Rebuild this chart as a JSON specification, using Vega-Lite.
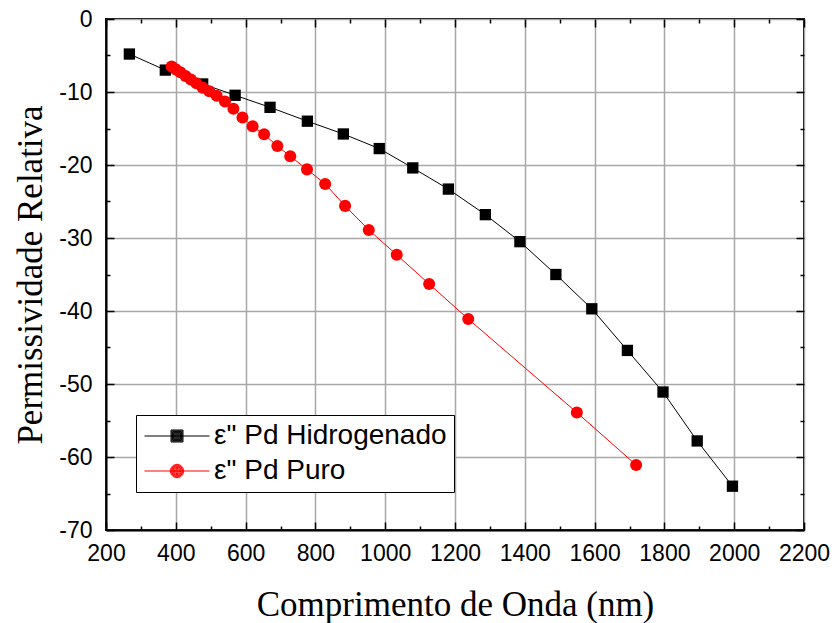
{
  "$schema": "https://vega.github.io/schema/vega-lite/v6.json",
  "width": 698,
  "height": 511,
  "autosize": {"type": "none"},
  "padding": {"left": 106, "top": 19, "right": 30, "bottom": 93},
  "background": "white",
  "config": {
    "view": {"stroke": "black", "strokeWidth": 2},
    "legend": {
      "orient": "none",
      "legendX": 30,
      "legendY": 396,
      "title": null,
      "strokeColor": "black",
      "fillColor": "white",
      "padding": 7,
      "labelFont": "Liberation Sans",
      "labelFontSize": 28,
      "labelColor": "black",
      "labelLimit": 500,
      "symbolSize": 400,
      "symbolOffset": 20,
      "symbolStrokeWidth": 1,
      "labelOffset": 23,
      "rowPadding": 7
    }
  },
  "data": {
    "values": [
      {"serie": "ε\" Pd Hidrogenado", "wl": 267, "eps": -4.8},
      {"serie": "ε\" Pd Hidrogenado", "wl": 370, "eps": -7.0},
      {"serie": "ε\" Pd Hidrogenado", "wl": 477, "eps": -8.9},
      {"serie": "ε\" Pd Hidrogenado", "wl": 570, "eps": -10.45},
      {"serie": "ε\" Pd Hidrogenado", "wl": 670, "eps": -12.1},
      {"serie": "ε\" Pd Hidrogenado", "wl": 777, "eps": -14.0},
      {"serie": "ε\" Pd Hidrogenado", "wl": 880, "eps": -15.75},
      {"serie": "ε\" Pd Hidrogenado", "wl": 983, "eps": -17.75},
      {"serie": "ε\" Pd Hidrogenado", "wl": 1079, "eps": -20.4},
      {"serie": "ε\" Pd Hidrogenado", "wl": 1181, "eps": -23.3},
      {"serie": "ε\" Pd Hidrogenado", "wl": 1287, "eps": -26.8},
      {"serie": "ε\" Pd Hidrogenado", "wl": 1386, "eps": -30.5},
      {"serie": "ε\" Pd Hidrogenado", "wl": 1489, "eps": -35.0},
      {"serie": "ε\" Pd Hidrogenado", "wl": 1592, "eps": -39.7},
      {"serie": "ε\" Pd Hidrogenado", "wl": 1694, "eps": -45.4},
      {"serie": "ε\" Pd Hidrogenado", "wl": 1796, "eps": -51.1},
      {"serie": "ε\" Pd Hidrogenado", "wl": 1894, "eps": -57.8},
      {"serie": "ε\" Pd Hidrogenado", "wl": 1995, "eps": -64.0},
      {"serie": "ε\" Pd Puro", "wl": 388, "eps": -6.5},
      {"serie": "ε\" Pd Puro", "wl": 400, "eps": -6.9},
      {"serie": "ε\" Pd Puro", "wl": 413, "eps": -7.3},
      {"serie": "ε\" Pd Puro", "wl": 428, "eps": -7.8},
      {"serie": "ε\" Pd Puro", "wl": 443, "eps": -8.3},
      {"serie": "ε\" Pd Puro", "wl": 459, "eps": -8.8},
      {"serie": "ε\" Pd Puro", "wl": 477, "eps": -9.4},
      {"serie": "ε\" Pd Puro", "wl": 496, "eps": -9.9},
      {"serie": "ε\" Pd Puro", "wl": 517, "eps": -10.5},
      {"serie": "ε\" Pd Puro", "wl": 541, "eps": -11.3},
      {"serie": "ε\" Pd Puro", "wl": 565, "eps": -12.3},
      {"serie": "ε\" Pd Puro", "wl": 591, "eps": -13.5},
      {"serie": "ε\" Pd Puro", "wl": 620, "eps": -14.7},
      {"serie": "ε\" Pd Puro", "wl": 653, "eps": -15.8},
      {"serie": "ε\" Pd Puro", "wl": 691, "eps": -17.4},
      {"serie": "ε\" Pd Puro", "wl": 728, "eps": -18.8},
      {"serie": "ε\" Pd Puro", "wl": 776, "eps": -20.6},
      {"serie": "ε\" Pd Puro", "wl": 828, "eps": -22.6},
      {"serie": "ε\" Pd Puro", "wl": 885, "eps": -25.6},
      {"serie": "ε\" Pd Puro", "wl": 953, "eps": -28.9},
      {"serie": "ε\" Pd Puro", "wl": 1033, "eps": -32.3},
      {"serie": "ε\" Pd Puro", "wl": 1126, "eps": -36.3},
      {"serie": "ε\" Pd Puro", "wl": 1238, "eps": -41.1},
      {"serie": "ε\" Pd Puro", "wl": 1549, "eps": -53.9},
      {"serie": "ε\" Pd Puro", "wl": 1719, "eps": -61.1}
    ]
  },
  "layer": [
    {
      "transform": [{"filter": "datum.serie === 'ε\" Pd Hidrogenado'"}],
      "mark": {"type": "line", "strokeWidth": 1, "color": "#000000"},
      "encoding": {
        "x": {
          "field": "wl", "type": "quantitative",
          "scale": {"domain": [200, 2200], "nice": false, "zero": false},
          "axis": {
            "orient": "bottom",
            "values": [200, 300, 400, 500, 600, 700, 800, 900, 1000, 1100, 1200, 1300, 1400, 1500, 1600, 1700, 1800, 1900, 2000, 2100, 2200],
            "labelExpr": "datum.value % 200 === 0 ? '' + datum.value : ''",
            "labelOverlap": false,
            "labelFlush": false,
            "grid": true,
            "gridColor": "#a8a8a8",
            "gridWidth": 1.5,
            "gridOpacity": {"condition": {"test": "datum.value % 200 === 0", "value": 1}, "value": 0},
            "tickSize": {"condition": {"test": "datum.value % 200 === 0", "value": -8}, "value": -4},
            "tickColor": "black",
            "tickWidth": 1.5,
            "domainColor": "black",
            "domainWidth": 2,
            "labelFont": "Liberation Sans",
            "labelFontSize": 23,
            "labelColor": "black",
            "labelPadding": 20,
            "title": "Comprimento de Onda (nm)",
            "titleFont": "Liberation Serif",
            "titleFontSize": 35,
            "titleFontWeight": "normal",
            "titleColor": "black",
            "titlePadding": 18
          }
        },
        "y": {
          "field": "eps", "type": "quantitative",
          "scale": {"domain": [-70, 0], "nice": false, "zero": false},
          "axis": {
            "orient": "left",
            "values": [-70, -65, -60, -55, -50, -45, -40, -35, -30, -25, -20, -15, -10, -5, 0],
            "labelExpr": "datum.value % 10 === 0 ? '' + datum.value : ''",
            "labelOverlap": false,
            "labelFlush": false,
            "grid": true,
            "gridColor": "#a8a8a8",
            "gridWidth": 1.5,
            "gridOpacity": {"condition": {"test": "datum.value % 10 === 0", "value": 1}, "value": 0},
            "tickSize": {"condition": {"test": "datum.value % 10 === 0", "value": -8}, "value": -4},
            "tickColor": "black",
            "tickWidth": 1.5,
            "domainColor": "black",
            "domainWidth": 2,
            "labelFont": "Liberation Sans",
            "labelFontSize": 23,
            "labelColor": "black",
            "labelPadding": 22,
            "title": "Permissividade Relativa",
            "titleFont": "Liberation Serif",
            "titleFontSize": 35,
            "titleFontWeight": "normal",
            "titleColor": "black",
            "titlePadding": 10
          }
        },
        "order": {"field": "wl", "type": "quantitative"}
      }
    },
    {
      "transform": [{"filter": "datum.serie === 'ε\" Pd Hidrogenado'"}],
      "mark": {"type": "point", "shape": "square", "filled": true, "opacity": 1, "size": 128, "color": "#000000"},
      "encoding": {
        "x": {"field": "wl", "type": "quantitative", "axis": null},
        "y": {"field": "eps", "type": "quantitative", "axis": null}
      }
    },
    {
      "transform": [{"filter": "datum.serie === 'ε\" Pd Puro'"}],
      "mark": {"type": "line", "strokeWidth": 1, "color": "#ff0000"},
      "encoding": {
        "x": {"field": "wl", "type": "quantitative", "axis": null},
        "y": {"field": "eps", "type": "quantitative", "axis": null},
        "order": {"field": "wl", "type": "quantitative"}
      }
    },
    {
      "transform": [{"filter": "datum.serie === 'ε\" Pd Puro'"}],
      "mark": {"type": "point", "shape": "circle", "filled": true, "opacity": 1, "size": 145, "color": "#ff0000"},
      "encoding": {
        "x": {"field": "wl", "type": "quantitative", "axis": null},
        "y": {"field": "eps", "type": "quantitative", "axis": null}
      }
    },
    {
      "transform": [{"filter": "false"}],
      "mark": {"type": "point", "filled": false, "opacity": 1, "strokeWidth": 1},
      "encoding": {
        "x": {
          "field": "wl", "type": "quantitative",
          "axis": {
            "orient": "top",
            "values": [200, 300, 400, 500, 600, 700, 800, 900, 1000, 1100, 1200, 1300, 1400, 1500, 1600, 1700, 1800, 1900, 2000, 2100, 2200],
            "labels": false,
            "grid": false,
            "domain": false,
            "tickSize": {"condition": {"test": "datum.value % 200 === 0", "value": -8}, "value": -4},
            "tickColor": "black",
            "tickWidth": 1.5,
            "title": null
          }
        },
        "y": {
          "field": "eps", "type": "quantitative",
          "axis": {
            "orient": "right",
            "values": [-70, -65, -60, -55, -50, -45, -40, -35, -30, -25, -20, -15, -10, -5, 0],
            "labels": false,
            "grid": false,
            "domain": false,
            "tickSize": {"condition": {"test": "datum.value % 10 === 0", "value": -8}, "value": -4},
            "tickColor": "black",
            "tickWidth": 1.5,
            "title": null
          }
        },
        "color": {
          "field": "serie", "type": "nominal",
          "scale": {"domain": ["ε\" Pd Hidrogenado", "ε\" Pd Puro"], "range": ["#000000", "#ff0000"]}
        },
        "shape": {
          "field": "serie", "type": "nominal",
          "scale": {
            "domain": ["ε\" Pd Hidrogenado", "ε\" Pd Puro"],
            "range": [
              "M-3.25,0H3.25M-0.6,-0.6H0.6V0.6H-0.6ZM-0.52,-0.52H0.52V0.52H-0.52ZM-0.44,-0.44H0.44V0.44H-0.44ZM-0.36,-0.36H0.36V0.36H-0.36ZM-0.28,-0.28H0.28V0.28H-0.28ZM-0.2,-0.2H0.2V0.2H-0.2ZM-0.12,-0.12H0.12V0.12H-0.12ZM-0.04,-0.04H0.04V0.04H-0.04Z",
              "M-3.25,0H3.25M0.67,0A0.67,0.67,0,1,1,-0.67,0A0.67,0.67,0,1,1,0.67,0ZM0.59,0A0.59,0.59,0,1,1,-0.59,0A0.59,0.59,0,1,1,0.59,0ZM0.51,0A0.51,0.51,0,1,1,-0.51,0A0.51,0.51,0,1,1,0.51,0ZM0.43,0A0.43,0.43,0,1,1,-0.43,0A0.43,0.43,0,1,1,0.43,0ZM0.35,0A0.35,0.35,0,1,1,-0.35,0A0.35,0.35,0,1,1,0.35,0ZM0.27,0A0.27,0.27,0,1,1,-0.27,0A0.27,0.27,0,1,1,0.27,0ZM0.19,0A0.19,0.19,0,1,1,-0.19,0A0.19,0.19,0,1,1,0.19,0ZM0.11,0A0.11,0.11,0,1,1,-0.11,0A0.11,0.11,0,1,1,0.11,0ZM0.04,0A0.04,0.04,0,1,1,-0.04,0A0.04,0.04,0,1,1,0.04,0Z"
            ]
          }
        }
      }
    }
  ],
  "resolve": {
    "axis": {"x": "independent", "y": "independent"}
  }
}
